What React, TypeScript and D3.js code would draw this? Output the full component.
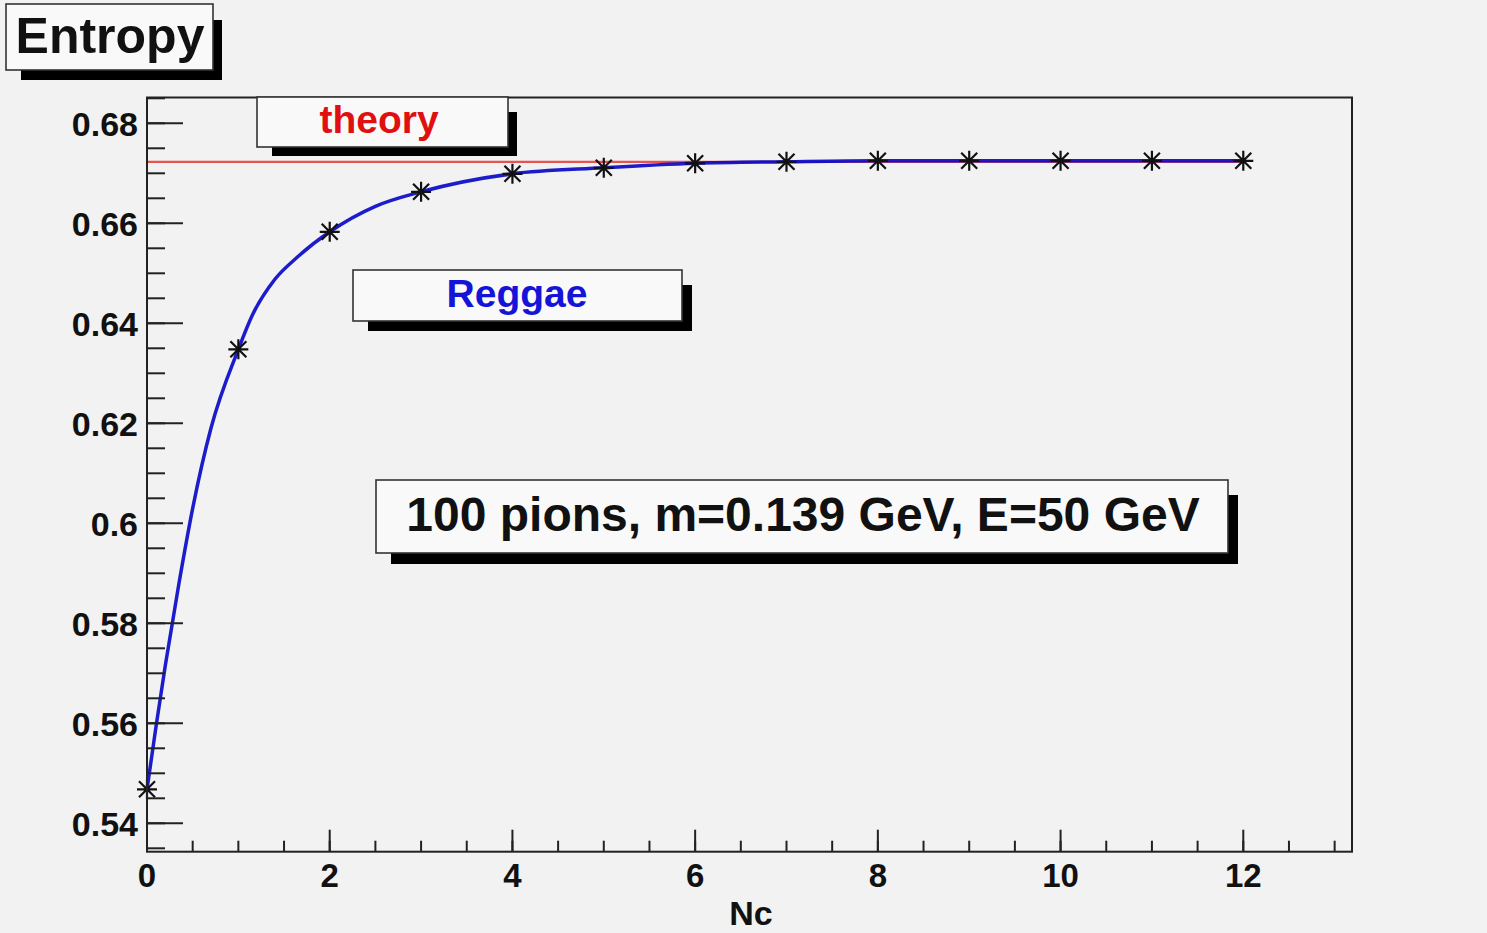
import React from 'react';
import * as d3 from 'd3';

// graph points (Nc, entropy)
const ncValues = [0, 1, 2, 3, 4, 5, 6, 7, 8, 9, 10, 11, 12];
const entropyValues = [0.5468, 0.6348, 0.6583, 0.6663, 0.6699, 0.6711, 0.672, 0.6723, 0.6725, 0.6725, 0.6725, 0.6725, 0.6725];

// smooth Reggae curve
const curveNc = [0, 0.1, 0.2, 0.35, 0.5, 0.7, 1.0, 1.15, 1.4, 1.65, 2.0, 2.5, 3, 4, 5, 6, 7, 8, 9, 10, 11, 12];
const curveEntropy = [0.5468, 0.5595, 0.5715, 0.588, 0.603, 0.619, 0.6348, 0.6415, 0.6488, 0.6533, 0.6583, 0.6634, 0.6663, 0.6699, 0.6711, 0.672, 0.6723, 0.6725, 0.6725, 0.6725, 0.6725, 0.6725];

const theoryValue = 0.6723;
const theoryRange = [0, 12];

const yMajorTicks = [0.54, 0.56, 0.58, 0.6, 0.62, 0.64, 0.66, 0.68];
const xMajorTicks = [0, 2, 4, 6, 8, 10, 12];

const W = 1487;
const H = 933;
const frame = { left: 147, right: 1352, top: 97.5, bottom: 851.7 };
const FONT = '"Liberation Sans", Arial, Helvetica, sans-serif';

const Pave: React.FC<{ x0: number; y0: number; x1: number; y1: number; sx: number; sy: number; sdx: number; sdy: number }> = ({ x0, y0, x1, y1, sx, sy, sdx, sdy }) => (
  <g>
    <rect x={x0 + sx} y={y0 + sy} width={x1 - x0 + sdx - sx} height={y1 - y0 + sdy - sy} fill="#000" />
    <rect x={x0} y={y0} width={x1 - x0} height={y1 - y0} fill="#f9f9f9" stroke="#333" strokeWidth={1.6} />
  </g>
);

const App: React.FC = () => {
  const x = d3.scaleLinear().domain([0, 13.19]).range([frame.left, frame.right]);
  const y = d3.scaleLinear().domain([0.53432, 0.68516]).range([frame.bottom, frame.top]);

  const yMinor = d3.range(0.535, 0.6851, 0.005);
  const xMinor = d3.range(0, 13.01, 0.5);

  const line = d3.line<number>()
    .x((_, i) => x(curveNc[i]))
    .y(d => y(d))
    .curve(d3.curveMonotoneX);

  const star = (cx: number, cy: number, r: number) =>
    `M${cx - r},${cy}L${cx + r},${cy}M${cx},${cy - r}L${cx},${cy + r}` +
    `M${cx - r * 0.8},${cy - r * 0.8}L${cx + r * 0.8},${cy + r * 0.8}M${cx - r * 0.8},${cy + r * 0.8}L${cx + r * 0.8},${cy - r * 0.8}`;

  return (
    <div style={{ position: 'fixed', left: 0, top: 0, width: W, height: H, background: '#f2f2f2' }}>
      <svg width={W} height={H} style={{ display: 'block' }} fontFamily={FONT}>
        <rect x={0} y={0} width={W} height={H} fill="#f2f2f2" />

        {/* theory line */}
        <line x1={x(theoryRange[0])} x2={x(theoryRange[1])} y1={y(theoryValue)} y2={y(theoryValue)} stroke="#e8524f" strokeWidth={2.2} />

        {/* reggae curve */}
        <path d={line(curveEntropy) || ''} fill="none" stroke="#0a0ac8" strokeWidth={3.5} opacity={0.92} />

        {/* markers */}
        {ncValues.map((n, i) => (
          <path key={i} d={star(x(n), y(entropyValues[i]), 10)} stroke="#111" strokeWidth={2.2} fill="none" />
        ))}

        {/* frame */}
        <rect x={frame.left} y={frame.top} width={frame.right - frame.left} height={frame.bottom - frame.top} fill="none" stroke="#222" strokeWidth={2} />

        {/* y axis ticks */}
        {yMinor.map((v, i) => (
          <line key={'ym' + i} x1={frame.left} x2={frame.left + 18} y1={y(v)} y2={y(v)} stroke="#222" strokeWidth={2} />
        ))}
        {yMajorTicks.map(v => (
          <g key={'yM' + v}>
            <line x1={frame.left} x2={frame.left + 36} y1={y(v)} y2={y(v)} stroke="#222" strokeWidth={2} />
            <text x={138} y={y(v)} dy="0.36em" textAnchor="end" fontSize={34} fontWeight="bold" fill="#111">{d3.format('')(v)}</text>
          </g>
        ))}

        {/* x axis ticks */}
        {xMinor.map((v, i) => (
          <line key={'xm' + i} x1={x(v)} x2={x(v)} y1={frame.bottom} y2={frame.bottom - 11} stroke="#222" strokeWidth={2} />
        ))}
        {xMajorTicks.map(v => (
          <g key={'xM' + v}>
            <line x1={x(v)} x2={x(v)} y1={frame.bottom} y2={frame.bottom - 22} stroke="#222" strokeWidth={2} />
            <text x={x(v)} y={887} textAnchor="middle" fontSize={33} fontWeight="bold" fill="#111">{v}</text>
          </g>
        ))}
        <text x={751} y={925} textAnchor="middle" fontSize={34} fontWeight="bold" fill="#111">Nc</text>

        {/* title */}
        <Pave x0={6} y0={4} x1={213} y1={70} sx={15} sy={16} sdx={9} sdy={10} />
        <text x={110} y={53} textAnchor="middle" fontSize={50} fontWeight="bold" fill="#111">Entropy</text>

        {/* theory label */}
        <Pave x0={257} y0={97} x1={508} y1={147} sx={15} sy={15} sdx={9} sdy={9} />
        <text x={379} y={133} textAnchor="middle" fontSize={39} fontWeight="bold" fill="#e01010">theory</text>

        {/* Reggae label */}
        <Pave x0={353} y0={270} x1={682} y1={321} sx={15} sy={15} sdx={10} sdy={10} />
        <text x={517} y={307} textAnchor="middle" fontSize={39} fontWeight="bold" fill="#1414d8">Reggae</text>

        {/* info box */}
        <Pave x0={376} y0={480} x1={1228} y1={553} sx={15} sy={15} sdx={10} sdy={11} />
        <text x={803} y={531} textAnchor="middle" fontSize={48} fontWeight="bold" fill="#111">100 pions, m=0.139 GeV, E=50 GeV</text>
      </svg>
    </div>
  );
};

export default App;
